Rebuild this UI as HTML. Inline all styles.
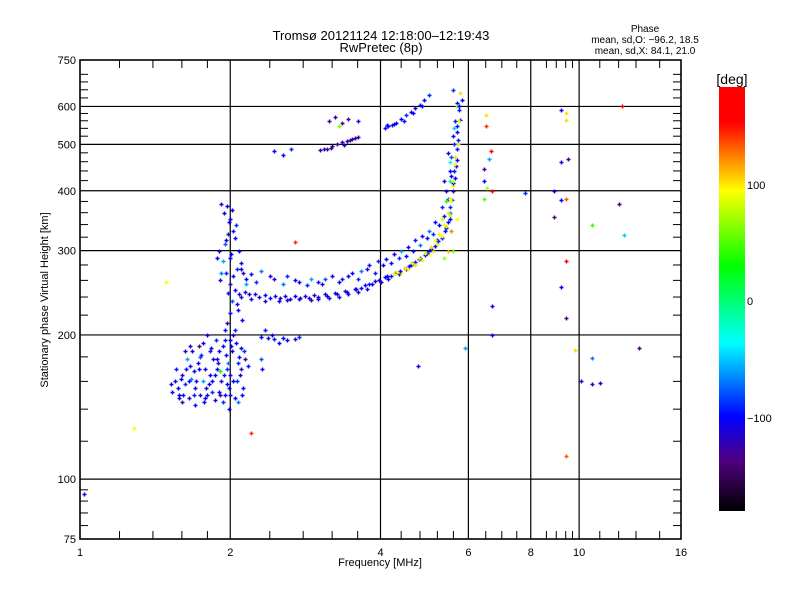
<!DOCTYPE html>
<html><head><meta charset="utf-8"><style>
body{margin:0;background:#fff;}
svg text{font-family:"Liberation Sans",sans-serif;fill:#000;}
</style></head><body>
<svg id="chart" width="800" height="600" viewBox="0 0 800 600" xmlns="http://www.w3.org/2000/svg">
<rect width="800" height="600" fill="#fff"/>
<text x="381" y="40" font-size="13" text-anchor="middle">Tromsø 20121124  12:18:00–12:19:43</text>
<text x="381" y="52" font-size="13" text-anchor="middle">RwPretec (8p)</text>
<text x="645" y="32" font-size="10" text-anchor="middle">Phase</text>
<text x="645" y="43" font-size="10" text-anchor="middle">mean, sd,O: −96.2, 18.5</text>
<text x="645" y="54" font-size="10" text-anchor="middle">mean, sd,X:  84.1, 21.0</text>
<g id="grid"></g>
<g id="marks"></g>
<g id="axes"></g>
<text x="380" y="566" font-size="11" text-anchor="middle">Frequency [MHz]</text>
<text x="0" y="0" font-size="11" text-anchor="middle" transform="translate(48,300) rotate(-90)">Stationary phase Virtual Height [km]</text>
<defs><linearGradient id="cmap" x1="0" y1="1" x2="0" y2="0">
<stop offset="0" stop-color="#000000"/><stop offset="0.119" stop-color="#500080"/>
<stop offset="0.222" stop-color="#0000ff"/><stop offset="0.397" stop-color="#00ffff"/>
<stop offset="0.578" stop-color="#00ff00"/><stop offset="0.756" stop-color="#ffff00"/>
<stop offset="0.917" stop-color="#ff0000"/><stop offset="1" stop-color="#ff0000"/>
</linearGradient></defs>
<rect x="719" y="87" width="26" height="424" fill="url(#cmap)"/>
<text x="732" y="84" font-size="14" text-anchor="middle">[deg]</text>
<text x="747" y="189" font-size="11">100</text>
<text x="747" y="305" font-size="11">0</text>
<text x="747" y="422" font-size="11">−100</text>
</svg>
<script>
// ---- data ----
const xTicks=[1,2,4,6,8,10,16];
const xTickLabels=["1","2","4","6","8","10","16"];
const yTicks=[75,100,200,300,400,500,600,750];
const yTickLabels=["75","100","200","300","400","500","600","750"];
const xGrid=[2,4,6,8,10];
const yGrid=[100,200,300,400,500,600];
const freq=[2.04,2.14,2.24,2.35,2.46,2.57,2.70,2.82,2.95,3.09,3.24,3.39,3.55,3.72,3.90,4.08,4.27,4.47,4.69,4.91,5.15,5.32,5.46,5.56,5.64,5.69,5.72,5.77,5.82,
2.1,2.2,2.35,2.5,2.6,2.75,2.9,3.0,3.15,3.3,3.45,3.6,3.75,3.85,4.0,4.15,4.35,4.5,4.6,4.8,5.0,5.2,5.4,5.5,5.6,5.66,5.7,5.75,
2.1,2.2,2.3,2.45,2.6,2.75,2.9,3.05,3.2,3.35,3.5,3.65,3.8,3.95,4.1,4.25,4.4,4.55,4.7,4.85,5.0,5.15,5.3,5.4,5.5,5.55,5.6,5.65,5.7,5.5,5.35,5.45,5.6,
1.92,1.97,2.02,2.0,2.05,1.98,2.04,1.95,2.08,2.0,1.93,2.1,1.96,2.03,2.0,2.06,2.0,1.97,2.04,1.9,1.88,1.92,2.12,2.15,
4.25,4.4,4.55,4.7,4.85,5.0,5.1,5.2,5.3,5.4,5.5,5.55,5.6,5.62,5.65,5.55,5.45,5.35,5.6,5.7,5.72,5.75,5.78,5.68,5.3,5.4,5.5,5.5,5.62,
3.03,3.12,3.2,3.28,3.35,3.42,3.5,3.6,2.45,2.65,2.55,3.15,3.25,3.35,3.45,3.6,3.3,
4.08,4.15,4.22,4.3,4.4,4.5,4.6,4.7,4.8,4.9,5.0,
1.55,1.57,1.6,1.58,1.62,1.65,1.63,1.67,1.7,1.72,1.68,1.73,1.75,1.78,1.76,1.8,1.82,1.85,1.83,1.87,1.9,1.88,1.92,1.95,1.93,1.97,2.0,1.98,2.02,2.05,2.08,2.1,2.06,2.12,2.04,1.9,1.86,1.78,1.7,1.6,1.53,1.56,1.64,1.69,1.74,1.81,1.84,1.96,2.0,2.03,1.95,1.8,2.14,2.17,2.1,1.99,2.07,1.91,1.76,1.66,
2.3,2.38,2.45,2.55,2.6,2.7,2.75,2.42,2.5,2.35,2.3,2.32,
6.5,6.5,6.65,6.6,6.45,6.45,6.55,6.7,7.8,6.45,9.2,9.4,9.4,12.2,9.2,9.5,8.9,9.2,9.4,8.9,12,10.6,12.3,9.4,9.2,6.7,9.4,6.7,9.8,10.6,13.2,10.1,10.6,11,9.4,5.9,4.75,1.02,1.28,1.49,2.2,2.7];
const height=[248,246,243,242,241,241,241,241,242,243,245,247,250,254,259,264,269,276,284,294,306,319,344,382,425,464,511,563,620,
240,238,236,236,237,238,237,238,239,240,243,246,250,255,258,262,268,275,280,290,300,315,335,360,400,450,530,590,
275,268,272,262,265,258,262,256,266,262,270,272,280,285,288,295,300,305,315,322,330,345,370,400,440,470,520,560,610,360,420,480,650,
375,372,365,350,340,325,318,310,300,290,285,282,270,265,255,232,222,212,205,300,290,270,270,255,
268,270,274,280,287,295,300,310,322,338,355,380,410,440,470,330,300,290,300,350,500,560,640,600,350,380,420,460,540,
486,490,495,500,505,508,512,518,485,490,475,560,570,555,565,560,545,
540,545,550,555,565,575,585,595,605,620,635,
160,155,165,150,158,148,170,162,155,175,185,190,182,170,160,150,165,178,188,195,185,170,160,150,145,158,165,175,185,192,180,170,160,155,148,152,146,148,143,145,152,170,178,168,150,158,152,182,195,200,205,200,178,172,188,140,145,168,192,190,
198,197,196,197,195,196,198,200,192,205,178,170,
575,545,485,465,445,420,405,400,395,385,590,580,563,600,460,467,400,382,384,352,375,340,324,285,252,230,217,200,186,179,188,160,158,159,112,188,172,93,128,258,125,312];
const phase=[-105,-110,-115,-105,-120,-110,-100,-115,-120,-110,-105,-120,-110,-100,-115,-105,-110,-100,-95,-105,-100,-95,-100,-90,-100,-105,-95,-100,-100,
-115,-110,-120,-105,-115,-110,-125,-105,-115,-110,-105,-115,-110,-100,-110,-105,-110,-115,-100,-95,-105,-100,-95,-90,-105,-100,-100,-95,
-105,-100,-70,-110,-90,-100,-60,-105,-110,-95,-100,-70,-105,-90,-100,-105,-60,-100,-95,-105,-70,-100,-90,-105,-100,-80,-105,-95,-100,-60,-105,-110,-90,
-105,-100,-100,-110,-90,-115,-100,-80,-105,-100,-60,-110,-95,-100,-120,-105,-100,-115,-90,-105,-100,-70,-120,-60,
90,85,95,100,80,90,100,85,95,100,80,90,85,110,100,120,110,70,60,90,100,95,100,60,80,40,10,-30,-50,
-125,-130,-120,-135,-125,-120,-130,-125,-105,-90,-100,-130,-120,-135,-125,-110,60,
-100,-105,-95,-100,-100,-90,-105,-100,-95,-100,-90,
-105,-100,-120,-100,-90,-115,-100,-70,-105,-110,-100,-130,-95,-105,-60,-100,-100,-110,-120,-90,-105,-100,-115,-100,-90,-100,-110,-70,-105,-100,-100,-120,-90,-105,-100,-110,-115,-100,-100,-130,-105,-95,-60,-100,-110,-105,-90,-100,-100,-115,-105,-100,-120,-95,-105,-100,-70,30,-100,-110,
-100,-105,-95,-100,-100,-115,-90,-105,-100,-95,-80,-105,
100,140,160,-60,-130,-100,70,160,-90,50,-110,100,100,160,-110,-140,-100,-100,130,-140,-140,40,-50,160,-100,-100,-140,-100,100,-70,-140,-110,-110,-110,130,-60,-110,-110,90,90,140,140];
// additional echoes (denser trace regions)
const freq2=[2.08,2.18,2.28,2.4,2.52,2.64,2.76,2.88,3.0,3.12,3.27,3.42,3.58,3.66,3.8,3.98,4.12,4.2,4.38,4.56,4.63,4.78,4.95,5.05,5.22,5.38,5.5,5.52,5.6,5.62,5.68,5.7,5.74,
2.15,2.25,2.4,2.55,2.7,2.85,3.0,3.1,3.3,3.45,3.6,3.75,3.9,4.05,4.2,4.35,4.5,4.65,4.8,4.95,5.1,5.25,5.35,5.45,5.55,5.62,
1.52,1.59,1.61,1.66,1.71,1.74,1.79,1.84,1.89,1.94,1.99,2.01,2.07,2.11,1.62,1.69,1.77,1.86,1.91,1.97,2.03,2.09,1.58,1.73,1.82,1.88,2.0,2.13,1.65,1.93,
1.94,1.99,2.03,1.96,2.01,2.06,1.91,1.98,2.02,2.07,2.11,1.95,
4.32,4.48,4.62,4.78,4.92,5.05,5.15,5.25,5.35,5.45,5.52,5.58,5.64,
3.08,3.18,3.38,3.48,3.55,4.12,4.25,4.45,4.65,4.85];
const height2=[244,243,240,239,239,238,239,239,240,241,243,246,249,251,256,260,265,266,272,279,282,288,296,302,314,330,350,370,415,440,490,545,600,
262,258,265,255,260,254,258,262,258,265,262,275,270,280,282,290,292,300,308,318,325,340,355,385,430,500,
158,162,150,172,160,180,155,160,175,165,155,190,175,150,185,150,145,165,150,170,160,165,148,170,185,178,150,185,160,190,
360,345,330,315,295,275,260,245,235,225,215,195,
271,276,283,290,297,305,315,325,340,360,385,420,455,
488,492,498,510,515,548,552,560,580,600];
const phase2=[-110,-105,-115,-100,-110,-105,-115,-100,-110,-105,-115,-100,-110,-105,-100,-110,-100,-95,-105,-100,-95,-100,-95,-100,-90,-95,-100,-90,-100,-95,-100,-95,-100,
-100,-90,-105,-70,-100,-95,-110,-80,-100,-105,-90,-100,-95,-105,-100,-90,-100,-95,-70,-100,-90,-100,-95,-80,-100,-90,
-105,-100,-95,-110,-100,-80,-105,-100,-110,-95,-100,-105,-90,-100,-110,-95,-105,-100,-120,-90,-100,-105,-110,-100,-95,-100,-110,-90,-100,-105,
-100,-105,-95,-110,-100,-90,-105,-100,-80,-105,-100,-95,
90,100,80,95,85,100,90,95,85,100,90,80,95,
-120,-125,-115,-130,-120,-100,-105,-95,-100,-105];
// ---- scales ----
const X0=80,X1=681,Y0=60,Y1=539;
function xs(f){return X0+Math.log2(f)/4*(X1-X0);}
function ys(h){return Y1-Math.log10(h/75)*(Y1-Y0);}
const stops=[[-180,[0,0,0]],[-137,[80,0,128]],[-100,[0,0,255]],[-37,[0,255,255]],[28,[0,255,0]],[92,[255,255,0]],[150,[255,0,0]],[180,[255,0,0]]];
function col(p){for(let i=1;i<stops.length;i++){if(p<=stops[i][0]){const a=stops[i-1],b=stops[i];const t=(p-a[0])/(b[0]-a[0]);return 'rgb('+a[1].map((v,k)=>Math.round(v+(b[1][k]-v)*t)).join(',')+')';}}return 'rgb(255,0,0)';}
const NS='http://www.w3.org/2000/svg';
function mk(tag,attrs,parent){const e=document.createElementNS(NS,tag);for(const k in attrs)e.setAttribute(k,attrs[k]);parent.appendChild(e);return e;}
const grid=document.getElementById('grid'),axes=document.getElementById('axes'),marks=document.getElementById('marks');
xGrid.forEach(v=>{const l=mk('line',{x1:xs(v),x2:xs(v),y1:Y0,y2:Y1,stroke:'#000','stroke-width':1.2},grid);

});
yGrid.forEach(v=>{const l=mk('line',{x1:X0,x2:X1,y1:ys(v),y2:ys(v),stroke:'#000','stroke-width':1.2},grid);

});
const allF=freq.concat(freq2),allH=height.concat(height2),allP=phase.concat(phase2);
for(let i=0;i<allF.length;i++){const x=Math.round(xs(allF[i]))+0.5,y=Math.round(ys(allH[i]))+0.5;
const p=mk('path',{d:`M${x-2} ${y}H${x+2}M${x} ${y-2}V${y+2}`,stroke:col(allP[i]),'stroke-width':1.4,fill:'none'},marks);

}
const fr=mk('rect',{x:X0,y:Y0,width:X1-X0,height:Y1-Y0,fill:'none',stroke:'#000','stroke-width':1.6},axes);


const xMinor=[1.2,1.4,1.6,1.8,2.4,2.8,3.2,3.6,4.4,4.8,5.2,5.6,6.5,7,7.5,8.6,9,9.4,9.7,11,12,13,14.5];
xMinor.forEach(v=>{const x=xs(v);mk('line',{x1:x,x2:x,y1:Y0,y2:Y0+8,stroke:'#000'},axes);mk('line',{x1:x,x2:x,y1:Y1,y2:Y1-8,stroke:'#000'},axes);});
const yMinor=[80,85,90,95,120,140,160,180,220,240,260,280,320,340,360,380,420,440,460,480,520,540,560,580,625,650,675,700];
yMinor.forEach(v=>{const y=ys(v);mk('line',{x1:X0,x2:X0+8,y1:y,y2:y,stroke:'#000'},axes);mk('line',{x1:X1,x2:X1-8,y1:y,y2:y,stroke:'#000'},axes);});
xTicks.forEach((v,i)=>{const t=mk('text',{x:xs(v),y:Y1+17,'font-size':11,'text-anchor':'middle'},axes);t.textContent=xTickLabels[i];

});
yTicks.forEach((v,i)=>{const t=mk('text',{x:X0-4,y:ys(v)+4,'font-size':11,'text-anchor':'end'},axes);t.textContent=yTickLabels[i];

});
</script>
</body></html>
